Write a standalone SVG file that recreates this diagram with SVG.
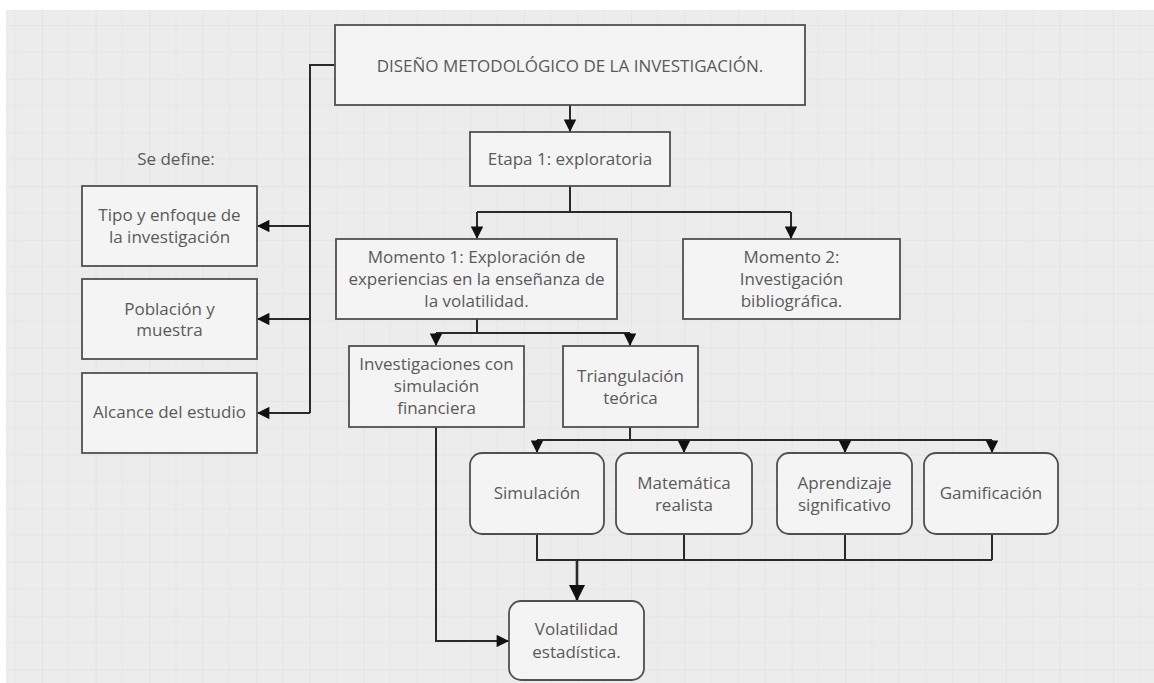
<svg xmlns="http://www.w3.org/2000/svg" width="1154" height="683" viewBox="0 0 1154 683">
  <defs>
    <pattern id="grid" x="42" y="25" width="53.55" height="53.7" patternUnits="userSpaceOnUse">
      <path d="M26.8 0V53.7M0 26.85H53.55" stroke="#e6e6e6" stroke-width="1" fill="none"/>
      <path d="M0 0V53.7M0 0H53.55" stroke="#dedede" stroke-width="1.2" fill="none"/>
    </pattern>
    <marker id="arr" viewBox="0 0 10 10" refX="10" refY="5" markerWidth="6.6" markerHeight="6.2" markerUnits="strokeWidth" orient="auto">
      <path d="M0 0L10 5L0 10Z" fill="#111"/>
    </marker>
    <style>
      .box { fill: #f4f4f4; stroke: #505050; stroke-width: 1.8; }
      .lbl { font-family: "Open Sans", "Noto Sans", sans-serif; font-size: 17px; fill: #5a5a5a; text-anchor: middle; }
      .ln { fill: none; stroke: #2a2a2a; stroke-width: 2; }
      .arw { fill: none; stroke: #2a2a2a; stroke-width: 2; marker-end: url(#arr); }
    </style>
  </defs>

  <!-- canvas -->
  <rect width="1154" height="683" fill="#ffffff"/>
  <rect x="6" y="10" width="1148" height="673" fill="#ececec"/>
  <rect x="6" y="10" width="1148" height="673" fill="url(#grid)"/>

  <!-- connectors -->
  <g id="connectors">
    <path class="arw" d="M570 105V132"/>
    <path class="ln" d="M570 186V212M477 212H791"/>
    <path class="arw" d="M477 212V239"/>
    <path class="arw" d="M791 212V239"/>
    <path class="ln" d="M477 319V333M436 333H630"/>
    <path class="arw" d="M436 333V346"/>
    <path class="arw" d="M630 333V346"/>
    <path class="ln" d="M630 427V440M537 440H992"/>
    <path class="arw" d="M537 440V453"/>
    <path class="arw" d="M684 440V453"/>
    <path class="arw" d="M845 440V453"/>
    <path class="arw" d="M992 440V453"/>
    <path class="ln" d="M537 534V560H992M684 534V560M845 534V560M992 534V560"/>
    <path class="arw" d="M577 560V601" style="stroke-width:2.6"/>
    <path class="arw" d="M436 427V641H509"/>
    <path class="ln" d="M335 65H310V413"/>
    <path class="arw" d="M310 226H257"/>
    <path class="arw" d="M310 319H257"/>
    <path class="arw" d="M310 413H257"/>
  </g>

  <g id="n-title">
    <rect class="box" x="335" y="25" width="470" height="80"/>
    <text class="lbl" x="570" y="72">DISEÑO METODOLÓGICO DE LA INVESTIGACIÓN.</text>
  </g>
  <g id="n-etapa1">
    <rect class="box" x="470" y="132" width="200" height="54"/>
    <text class="lbl" x="570" y="165">Etapa 1: exploratoria</text>
  </g>
  <g id="n-momento1">
    <rect class="box" x="336" y="239" width="281" height="80"/>
    <text class="lbl" x="476.5" y="263">Momento 1: Exploración de</text>
    <text class="lbl" x="476.5" y="285">experiencias en la enseñanza de</text>
    <text class="lbl" x="476.5" y="307">la volatilidad.</text>
  </g>
  <g id="n-momento2">
    <rect class="box" x="683" y="239" width="217" height="80"/>
    <text class="lbl" x="791.5" y="263">Momento 2:</text>
    <text class="lbl" x="791.5" y="285">Investigación</text>
    <text class="lbl" x="791.5" y="307">bibliográfica.</text>
  </g>
  <g id="n-investigaciones">
    <rect class="box" x="349" y="346" width="175" height="81"/>
    <text class="lbl" x="436.5" y="370">Investigaciones con</text>
    <text class="lbl" x="436.5" y="392">simulación</text>
    <text class="lbl" x="436.5" y="414">financiera</text>
  </g>
  <g id="n-triangulacion">
    <rect class="box" x="563" y="346" width="135" height="81"/>
    <text class="lbl" x="630.5" y="382">Triangulación</text>
    <text class="lbl" x="630.5" y="404">teórica</text>
  </g>
  <g id="n-simulacion">
    <rect class="box" x="470" y="453" width="134" height="81" rx="12"/>
    <text class="lbl" x="537" y="499">Simulación</text>
  </g>
  <g id="n-matematica">
    <rect class="box" x="616" y="453" width="136" height="81" rx="12"/>
    <text class="lbl" x="684" y="489">Matemática</text>
    <text class="lbl" x="684" y="511">realista</text>
  </g>
  <g id="n-aprendizaje">
    <rect class="box" x="777" y="453" width="135" height="81" rx="12"/>
    <text class="lbl" x="844.5" y="489">Aprendizaje</text>
    <text class="lbl" x="844.5" y="511">significativo</text>
  </g>
  <g id="n-gamificacion">
    <rect class="box" x="924" y="453" width="134" height="81" rx="12"/>
    <text class="lbl" x="991" y="499">Gamificación</text>
  </g>
  <g id="n-volatilidad">
    <rect class="box" x="509" y="601" width="135" height="79" rx="12"/>
    <text class="lbl" x="576.5" y="635">Volatilidad</text>
    <text class="lbl" x="576.5" y="658">estadística.</text>
  </g>

  <g id="n-sedefine">
    <text class="lbl" x="176" y="165">Se define:</text>
  </g>
  <g id="n-tipo">
    <rect class="box" x="82" y="186" width="175" height="80"/>
    <text class="lbl" x="169.5" y="221">Tipo y enfoque de</text>
    <text class="lbl" x="169.5" y="243">la investigación</text>
  </g>
  <g id="n-poblacion">
    <rect class="box" x="82" y="279" width="175" height="80"/>
    <text class="lbl" x="169.5" y="315">Población y</text>
    <text class="lbl" x="169.5" y="336">muestra</text>
  </g>
  <g id="n-alcance">
    <rect class="box" x="82" y="373" width="175" height="80"/>
    <text class="lbl" x="169.5" y="418">Alcance del estudio</text>
  </g>
</svg>
